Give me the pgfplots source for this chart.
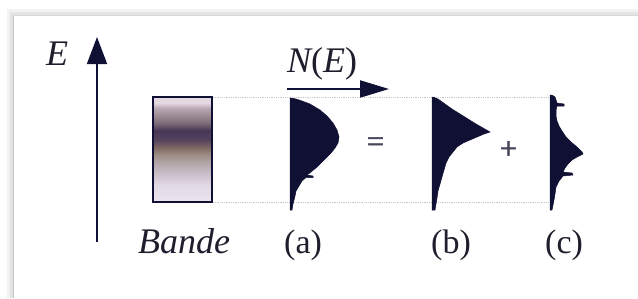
\documentclass[border=0pt]{standalone}
\usepackage{pgfplots}
\pgfplotsset{compat=1.18}
\usepackage{fontspec}
\setmainfont{Liberation Serif}
\usetikzlibrary{arrows.meta}
\definecolor{ink}{RGB}{16,16,52}
\definecolor{txt}{RGB}{30,30,45}
\definecolor{sym}{RGB}{70,70,88}
\definecolor{b1}{RGB}{228,216,224}
\definecolor{b2}{RGB}{184,168,180}
\definecolor{b3}{RGB}{154,136,144}
\definecolor{b4}{RGB}{122,106,120}
\definecolor{b5}{RGB}{70,54,84}
\definecolor{b6}{RGB}{85,67,94}
\definecolor{b7}{RGB}{128,106,98}
\definecolor{b8}{RGB}{154,138,130}
\definecolor{b9}{RGB}{176,164,166}
\definecolor{b10}{RGB}{200,188,198}
\definecolor{b11}{RGB}{226,218,230}
\definecolor{b12}{RGB}{234,228,238}
\pgfdeclareverticalshading{bandshade}{100bp}{%
color(0bp)=(b12); color(25.5bp)=(b12); color(32.8bp)=(b11); color(39.1bp)=(b10);
color(43.9bp)=(b9); color(47.8bp)=(b8); color(50.7bp)=(b7); color(54.6bp)=(b6);
color(59bp)=(b5); color(62.4bp)=(b4); color(65.8bp)=(b3); color(69.7bp)=(b2);
color(72.1bp)=(b1); color(75bp)=(b1); color(100bp)=(b1)}
\begin{document}
\begin{tikzpicture}
\begin{axis}[scale only axis, width=638pt, height=298pt,
  xmin=0, xmax=638, ymin=0, ymax=298, y dir=reverse, hide axis, clip=false]
% frame with soft shadow
\addplot[draw=gray!10, line width=6pt] coordinates {(10,298)(10,12)(638,12)};
\addplot[draw=gray!22, line width=2.5pt] coordinates {(11.5,298)(11.5,13.5)(638,13.5)};
\addplot[draw=gray!45, line width=1pt] coordinates {(13,298)(13,15)};
\addplot[draw=gray!30, line width=0.8pt] coordinates {(13,15)(638,15)};
% energy axis arrow
\addplot[ink, line width=1.6pt, -{Triangle[length=27pt,width=20pt]}] coordinates {(97,242)(97,37)};
% N(E) arrow
\addplot[ink, line width=2.2pt, -{Triangle[length=29pt,width=17pt]}] coordinates {(287,89)(389,89)};
% dotted guides
\addplot[draw=gray!45, densely dotted, line width=0.8pt] coordinates {(213,97)(552,97)};
\addplot[draw=gray!45, densely dotted, line width=0.8pt] coordinates {(213,202)(552,202)};
% band
\addplot[draw=none, shading=bandshade] coordinates {(153,97)(212,97)(212,202)(153,202)} -- cycle;
\addplot[draw=ink, line width=2pt, fill=none] coordinates {(153,97)(212,97)(212,202)(153,202)} -- cycle;
% (a)
\addplot[draw=ink, fill=ink, line width=0.5pt] coordinates {
(291,98)(296,99)(302,101)(310,104)(320,110)(327,116)(333,123)(337,130)(339,137)
(338,143)(335,148)(331,153)(327,157)(322,162)(317,167)(311,172)(307,175)
(313,176)(313,177.5)(306,177.5)(302,181)(299,186)(296,191)(295,196)(294,200)
(293,204)(292,210)(290,210)(290,98)} -- cycle;
% (b)
\addplot[draw=ink, fill=ink, line width=0.5pt] coordinates {
(433,97)(438,99)(445,104)(452,109)(460,114)(468,119)(476,124)(483,128)(490,132)
(484,134)(477,137)(470,140)(463,143)(457,147)(453,152)(449,157)(446,163)(444,170)
(442,177)(440,184)(438,191)(437,198)(436,204)(435,210)(432,210)(432,97)} -- cycle;
% (c)
\addplot[draw=ink, fill=ink, line width=0.5pt] coordinates {
(552,95)(555,97)(556,100)(557,103)(564,104)(564,106)(557,106)(556,110)(556,116)
(557,121)(559,126)(562,131)(566,137)(571,142)(577,147)(582,152)(583,154)(577,157)
(572,160)(568,164)(565,168)(563,172)(572,173)(573,175)(563,176)(559,181)(556,187)
(555,194)(554,200)(553,205)(552,210)(550,210)(550,95)} -- cycle;
% texts
\node[anchor=base west, inner sep=0pt, text=txt, font=\fontsize{36}{40}\selectfont\itshape] at (axis cs:46,65) {E};
\node[anchor=base west, inner sep=0pt, text=txt, font=\fontsize{36}{40}\selectfont] at (axis cs:287,72) {\itshape N\upshape(\itshape E\upshape)};
\node[anchor=base west, inner sep=0pt, text=txt, font=\fontsize{36}{40}\selectfont\itshape] at (axis cs:138,253) {Bande};
\node[anchor=base west, inner sep=0pt, text=txt, font=\fontsize{34}{38}\selectfont] at (axis cs:284,253) {(a)};
\node[anchor=base west, inner sep=0pt, text=txt, font=\fontsize{34}{38}\selectfont] at (axis cs:431,253) {(b)};
\node[anchor=base west, inner sep=0pt, text=txt, font=\fontsize{34}{38}\selectfont] at (axis cs:545,253) {(c)};
\node[inner sep=0pt, text=sym, font=\fontsize{31}{33}\selectfont\addfontfeature{FakeBold=1.5}] at (axis cs:375.5,144.5) {=};
\node[inner sep=0pt, text=sym, font=\fontsize{31}{33}\selectfont\addfontfeature{FakeBold=1.5}] at (axis cs:508.5,150) {+};
\end{axis}
\pgfresetboundingbox
\path[use as bounding box] (current axis.south west) rectangle (current axis.north east);
\end{tikzpicture}
\end{document}
